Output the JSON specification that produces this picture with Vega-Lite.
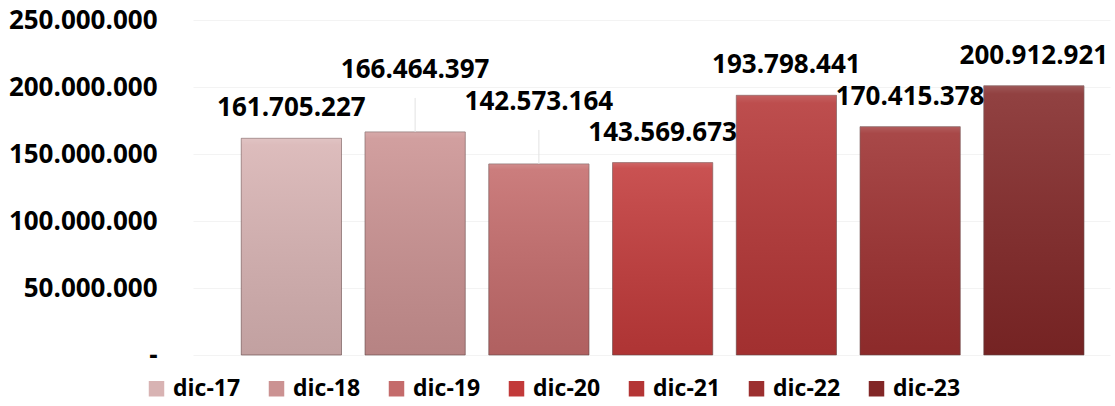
{
  "$schema": "https://vega.github.io/schema/vega-lite/v6.json",
  "width": 917,
  "height": 335,
  "autosize": "none",
  "padding": {"left": 193, "top": 20, "right": 5, "bottom": 51},
  "background": "white",
  "config": {
    "locale": {"number": {"decimal": ",", "thousands": ".", "grouping": [3], "currency": ["", ""]}},
    "view": {"stroke": null},
    "font": "Open Sans"
  },
  "data": {
    "values": [
      {"mes": "dic-17", "valor": 161705227},
      {"mes": "dic-18", "valor": 166464397},
      {"mes": "dic-19", "valor": 142573164},
      {"mes": "dic-20", "valor": 143569673},
      {"mes": "dic-21", "valor": 193798441},
      {"mes": "dic-22", "valor": 170415378},
      {"mes": "dic-23", "valor": 200912921}
    ]
  },
  "encoding": {
    "x": {
      "field": "mes",
      "type": "nominal",
      "sort": null,
      "scale": {"paddingInner": 0.19, "paddingOuter": 0.3, "align": 0.65},
      "axis": null
    },
    "y": {
      "field": "valor",
      "type": "quantitative",
      "scale": {"domain": [0, 250000000], "nice": false},
      "axis": {
        "values": [0, 50000000, 100000000, 150000000, 200000000, 250000000],
        "format": ",d",
        "labelExpr": "datum.value === 0 ? '-' : datum.label",
        "grid": true,
        "gridColor": "#f3f3f3",
        "domain": false,
        "ticks": false,
        "labelPadding": 36,
        "labelFont": "Open Sans",
        "labelFontWeight": "bold",
        "labelFontSize": 26,
        "labelColor": "#000000",
        "title": null
      }
    }
  },
  "layer": [
    {
      "mark": {"type": "bar", "stroke": "#6b4c4c", "strokeWidth": 1, "strokeOpacity": 0.6},
      "encoding": {
        "color": {
          "field": "mes",
          "type": "nominal",
          "sort": null,
          "scale": {"range": ["#D8B3B3", "#CB9292", "#C46B6B", "#C23A3A", "#B43535", "#9C2F2F", "#822727"]},
          "legend": {
            "orient": "none",
            "legendX": -48,
            "legendY": 357,
            "direction": "horizontal",
            "title": null,
            "symbolType": "square",
            "symbolSize": 240,
            "symbolStrokeWidth": 0,
            "labelOffset": 5,
            "labelFont": "Open Sans",
            "labelFontWeight": "bold",
            "labelFontSize": 23,
            "labelColor": "#000000",
            "columnPadding": 24
          }
        }
      }
    },
    {
      "mark": {
        "type": "bar",
        "fill": {
          "gradient": "linear",
          "x1": 0, "y1": 0, "x2": 0, "y2": 1,
          "stops": [
            {"offset": 0, "color": "rgba(255,255,255,0.22)"},
            {"offset": 0.03, "color": "rgba(255,255,255,0.12)"},
            {"offset": 1, "color": "rgba(0,0,0,0.10)"}
          ]
        }
      },
      "encoding": {}
    },
    {
      "transform": [{"filter": "datum.mes == 'dic-18' || datum.mes == 'dic-19'"}],
      "mark": {"type": "rule", "color": "#e2e2e2", "strokeWidth": 1, "y2Offset": -34},
      "encoding": {"y2": {"field": "valor"}}
    },
    {
      "transform": [{"filter": "datum.mes != 'dic-18' && datum.mes != 'dic-19'"}],
      "mark": {"type": "text", "baseline": "middle", "dy": -30, "font": "Open Sans", "fontWeight": "bold", "fontSize": 26, "color": "#000000"},
      "encoding": {"text": {"field": "valor", "type": "quantitative", "format": ",d"}}
    },
    {
      "transform": [{"filter": "datum.mes == 'dic-18' || datum.mes == 'dic-19'"}],
      "mark": {"type": "text", "baseline": "middle", "dy": -62, "font": "Open Sans", "fontWeight": "bold", "fontSize": 26, "color": "#000000"},
      "encoding": {"text": {"field": "valor", "type": "quantitative", "format": ",d"}}
    }
  ]
}
